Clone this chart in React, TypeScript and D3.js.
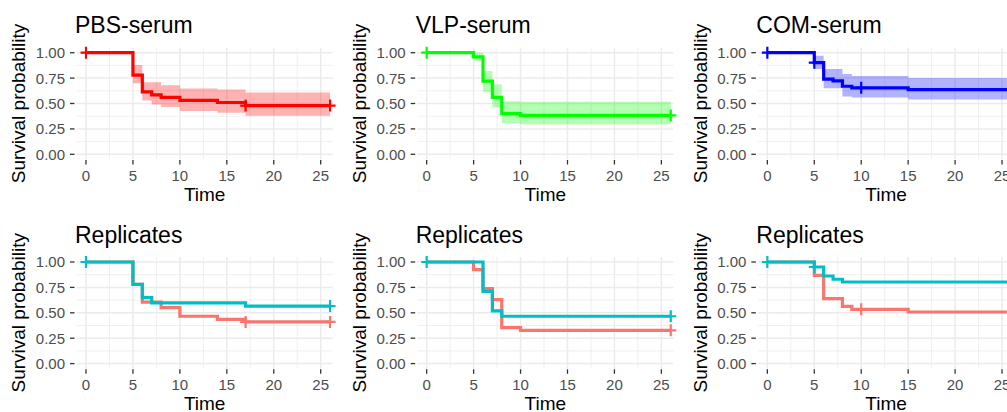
import React from 'react';
import * as d3 from 'd3';

// ---------- axis ticks ----------
const xTicks = [0, 5, 10, 15, 20, 25];
const xMinor = [2.5, 7.5, 12.5, 17.5, 22.5];
const yTicks = [0, 0.25, 0.5, 0.75, 1];
const yTickLabels = ['0.00', '0.25', '0.50', '0.75', '1.00'];
const yMinor = [0.125, 0.375, 0.625, 0.875];

// ---------- PBS-serum ----------
const pbsTime = [0, 5, 6, 7, 8, 10, 14, 17, 26];
const pbsSurv = [1, 0.78, 0.615, 0.585, 0.56, 0.53, 0.51, 0.48, 0.48];
const pbsUpper = [1, 0.88, 0.71, 0.71, 0.68, 0.647, 0.637, 0.608, 0.608];
const pbsLower = [1, 0.70, 0.53, 0.49, 0.465, 0.425, 0.41, 0.38, 0.38];
const pbsCensor = [0, 17, 26];

// ---------- VLP-serum ----------
const vlpTime = [0, 5, 6, 7, 8, 10, 26];
const vlpSurv = [1, 0.958, 0.72, 0.56, 0.40, 0.383, 0.383];
const vlpUpper = [1, 1, 0.82, 0.686, 0.523, 0.516, 0.516];
const vlpLower = [1, 0.92, 0.616, 0.46, 0.305, 0.297, 0.297];
const vlpCensor = [0, 26];

// ---------- COM-serum ----------
const comTime = [0, 5, 6, 7, 8, 9, 15, 26];
const comSurv = [1, 0.902, 0.739, 0.722, 0.67, 0.654, 0.637, 0.637];
const comUpper = [1, 0.97, 0.84, 0.84, 0.79, 0.77, 0.75, 0.75];
const comLower = [1, 0.84, 0.65, 0.65, 0.57, 0.56, 0.54, 0.54];
const comCensor = [0, 5, 10];

// ---------- Replicates (PBS) ----------
const rep1RedTime = [0, 5, 6, 8, 10, 14, 17, 26];
const rep1RedSurv = [1, 0.78, 0.606, 0.551, 0.466, 0.436, 0.41, 0.41];
const rep1RedCensor = [17, 26];
const rep1CyanTime = [0, 5, 6, 7, 17, 26];
const rep1CyanSurv = [1, 0.78, 0.65, 0.597, 0.566, 0.566];
const rep1CyanCensor = [0, 26];

// ---------- Replicates (VLP) ----------
const rep2RedTime = [0, 5, 6, 7, 8, 10, 26];
const rep2RedSurv = [1, 0.925, 0.738, 0.63, 0.354, 0.328, 0.328];
const rep2RedCensor = [26];
const rep2CyanTime = [0, 6, 7, 8, 26];
const rep2CyanSurv = [1, 0.711, 0.518, 0.466, 0.466];
const rep2CyanCensor = [0, 26];

// ---------- Replicates (COM) ----------
const rep3RedTime = [0, 5, 6, 8, 9, 15, 26];
const rep3RedSurv = [1, 0.869, 0.639, 0.564, 0.534, 0.508, 0.508];
const rep3RedCensor = [10];
const rep3CyanTime = [0, 5, 6, 7, 8, 26];
const rep3CyanSurv = [1, 0.951, 0.862, 0.83, 0.803, 0.803];
const rep3CyanCensor = [0, 5];

const RED = '#F8766D';
const CYAN = '#00BFC4';

type Curve = {
  time: number[];
  surv: number[];
  upper?: number[];
  lower?: number[];
  censor: number[];
  color: string;
  band?: string;
};
type Panel = { title: string; col: number; row: number; curves: Curve[] };

const panels: Panel[] = [
  { title: 'PBS-serum', col: 0, row: 0, curves: [{ time: pbsTime, surv: pbsSurv, upper: pbsUpper, lower: pbsLower, censor: pbsCensor, color: '#FF0000', band: '#FF0000' }] },
  { title: 'VLP-serum', col: 1, row: 0, curves: [{ time: vlpTime, surv: vlpSurv, upper: vlpUpper, lower: vlpLower, censor: vlpCensor, color: '#00FF00', band: '#00FF00' }] },
  { title: 'COM-serum', col: 2, row: 0, curves: [{ time: comTime, surv: comSurv, upper: comUpper, lower: comLower, censor: comCensor, color: '#0000FF', band: '#0000FF' }] },
  { title: 'Replicates', col: 0, row: 1, curves: [
    { time: rep1RedTime, surv: rep1RedSurv, censor: rep1RedCensor, color: RED },
    { time: rep1CyanTime, surv: rep1CyanSurv, censor: rep1CyanCensor, color: CYAN },
  ] },
  { title: 'Replicates', col: 1, row: 1, curves: [
    { time: rep2RedTime, surv: rep2RedSurv, censor: rep2RedCensor, color: RED },
    { time: rep2CyanTime, surv: rep2CyanSurv, censor: rep2CyanCensor, color: CYAN },
  ] },
  { title: 'Replicates', col: 2, row: 1, curves: [
    { time: rep3RedTime, surv: rep3RedSurv, censor: rep3RedCensor, color: RED },
    { time: rep3CyanTime, surv: rep3CyanSurv, censor: rep3CyanCensor, color: CYAN },
  ] },
];

const W = 1007;
const H = 412;
const COL_W = 340.67;
const ROW_H = 209.3;
const PL = 76.7, PR = 332.7, PT = 47.6, PB = 159.4;
const FONT = '"Liberation Sans", Arial, sans-serif';

const x = d3.scaleLinear().domain([0, 25]).range([86, 320.7]);
const y = d3.scaleLinear().domain([0, 1]).range([154.3, 52.7]);

function survAt(c: Curve, t: number) {
  let v = c.surv[0];
  for (let i = 0; i < c.time.length; i++) if (c.time[i] <= t) v = c.surv[i];
  return v;
}

function PanelView({ p }: { p: Panel }) {
  const ox = p.col * COL_W;
  const oy = p.row * ROW_H;
  const mkLine = (c: Curve) =>
    d3.line<number>()
      .x((_, i) => x(c.time[i]))
      .y((d) => y(d))
      .curve(d3.curveStepAfter)(c.surv) || '';
  const mkArea = (c: Curve) =>
    d3.area<number>()
      .x((_, i) => x(c.time[i]))
      .y0((_, i) => y(c.lower![i]))
      .y1((_, i) => y(c.upper![i]))
      .curve(d3.curveStepAfter)(c.surv) || '';
  const clipId = `clip-${p.col}-${p.row}`;
  return (
    <g transform={`translate(${ox},${oy})`}>
      <defs>
        <clipPath id={clipId}>
          <rect x={PL} y={PT - 8} width={PR - PL + 8} height={PB - PT + 16} />
        </clipPath>
      </defs>
      {/* grid */}
      {xMinor.map((t) => (
        <line key={'xm' + t} x1={x(t)} x2={x(t)} y1={PT} y2={PB} stroke="#EBEBEB" strokeWidth={0.8} />
      ))}
      {yMinor.map((t) => (
        <line key={'ym' + t} x1={PL} x2={PR} y1={y(t)} y2={y(t)} stroke="#EBEBEB" strokeWidth={0.8} />
      ))}
      {xTicks.map((t) => (
        <line key={'xg' + t} x1={x(t)} x2={x(t)} y1={PT} y2={PB} stroke="#EBEBEB" strokeWidth={1.5} />
      ))}
      {yTicks.map((t) => (
        <line key={'yg' + t} x1={PL} x2={PR} y1={y(t)} y2={y(t)} stroke="#EBEBEB" strokeWidth={1.5} />
      ))}
      {/* ticks */}
      {yTicks.map((t, i) => (
        <g key={'yt' + t}>
          <line x1={70} x2={74.5} y1={y(t)} y2={y(t)} stroke="#333333" strokeWidth={1.3} />
          <text x={65} y={y(t)} dy="0.36em" textAnchor="end" fontSize={15} fill="#4D4D4D" fontFamily={FONT}>
            {yTickLabels[i]}
          </text>
        </g>
      ))}
      {xTicks.map((t) => (
        <g key={'xt' + t}>
          <line x1={x(t)} x2={x(t)} y1={160} y2={164.5} stroke="#333333" strokeWidth={1.3} />
          <text x={x(t)} y={180.7} textAnchor="middle" fontSize={15} fill="#4D4D4D" fontFamily={FONT}>
            {t}
          </text>
        </g>
      ))}
      {/* curves */}
      <g clipPath={`url(#${clipId})`}>
        {p.curves.map((c, k) =>
          c.upper && c.lower ? (
            <path key={'a' + k} d={mkArea(c)} fill={c.band} fillOpacity={0.3} stroke="none" />
          ) : null
        )}
        {p.curves.map((c, k) => (
          <g key={'c' + k}>
            <path d={mkLine(c)} fill="none" stroke={c.color} strokeWidth={3.2} />
            {c.censor.map((t) => (
              <path
                key={'cs' + t}
                d={`M${x(t) - 5.5},${y(survAt(c, t))}h11M${x(t)},${y(survAt(c, t)) - 6}v12`}
                stroke={c.color}
                strokeWidth={2.2}
                fill="none"
              />
            ))}
          </g>
        ))}
      </g>
      {/* titles */}
      <text x={75} y={33.3} fontSize={23} fill="#000" fontFamily={FONT}>
        {p.title}
      </text>
      <text x={(PL + PR) / 2} y={201} textAnchor="middle" fontSize={19} fill="#000" fontFamily={FONT}>
        Time
      </text>
      <text
        transform={`translate(25.3,${(PT + PB) / 2}) rotate(-90)`}
        textAnchor="middle"
        fontSize={19}
        fill="#000"
        fontFamily={FONT}
      >
        Survival probability
      </text>
    </g>
  );
}

export default function App() {
  return (
    <svg
      width={W}
      height={H}
      viewBox={`0 0 ${W} ${H}`}
      style={{ position: 'absolute', left: 0, top: 0, background: '#fff' }}
    >
      <rect x={0} y={0} width={W} height={H} fill="#fff" />
      {panels.map((p, i) => (
        <PanelView key={i} p={p} />
      ))}
    </svg>
  );
}
